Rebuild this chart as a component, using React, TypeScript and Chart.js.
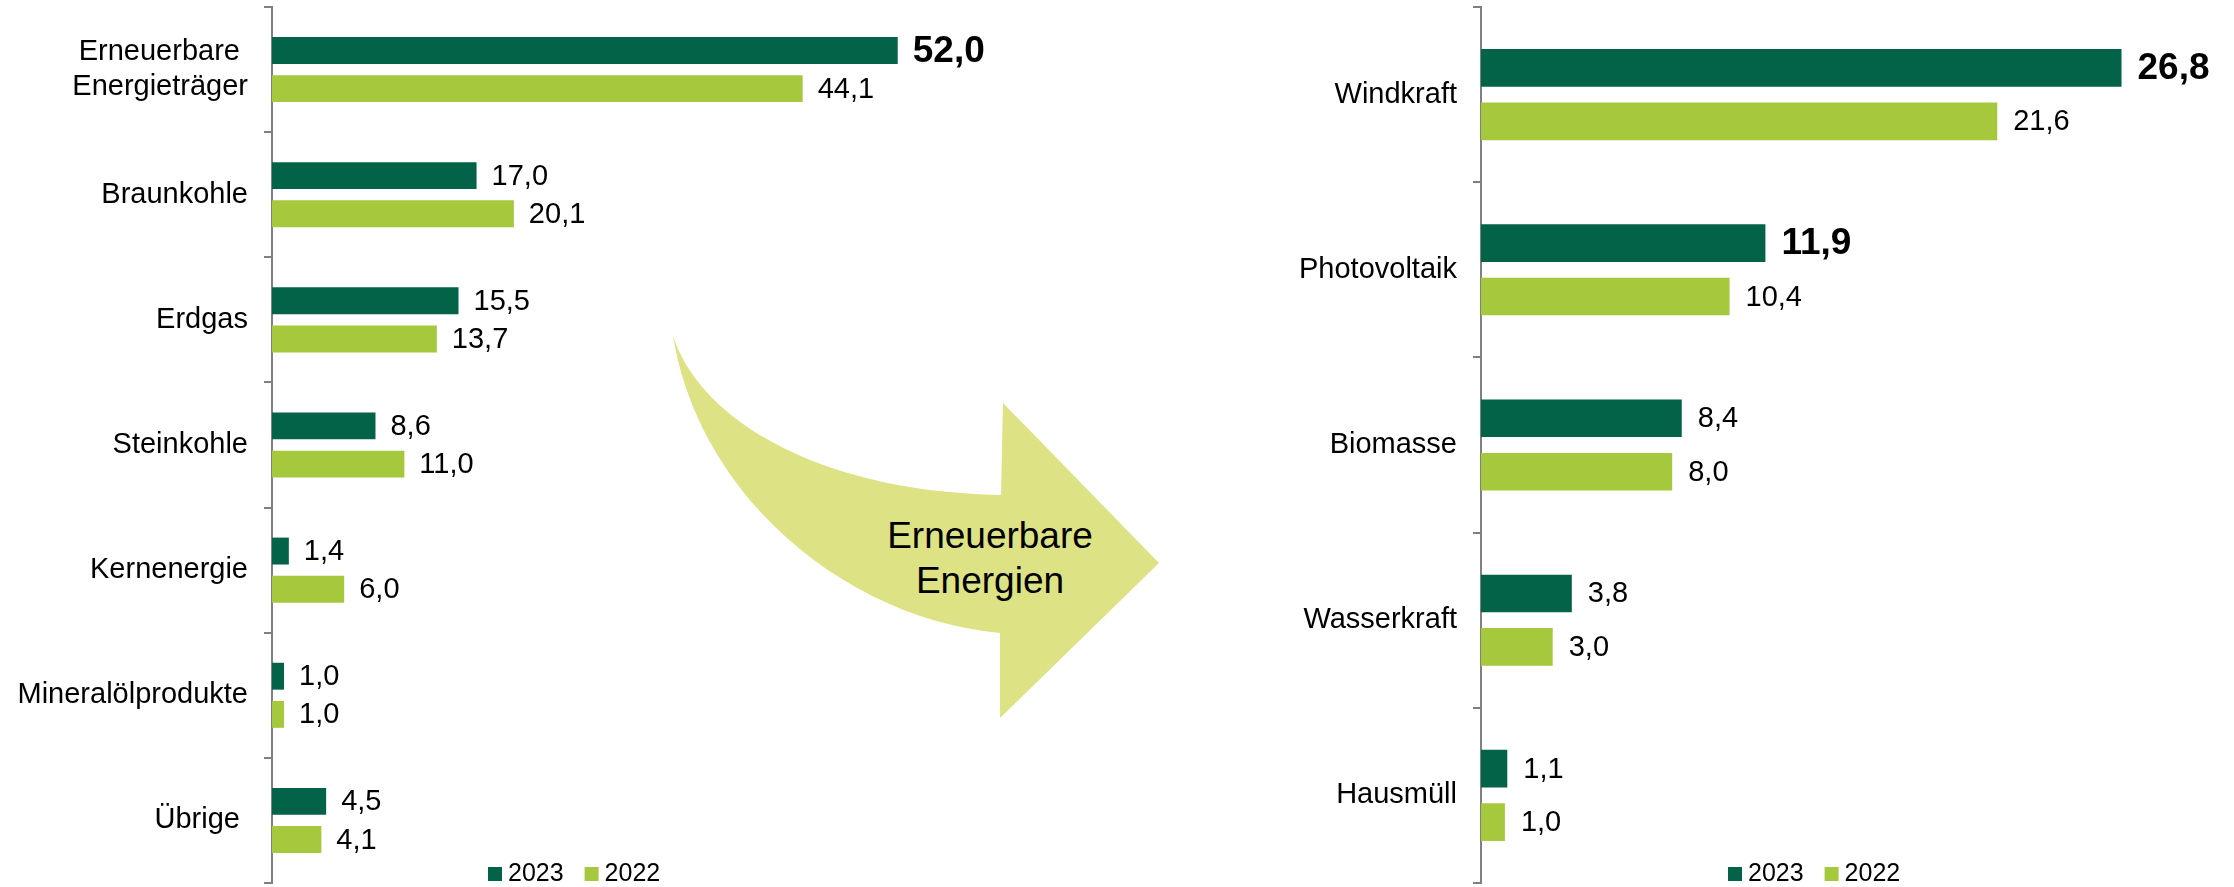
import React, { useEffect, useRef } from "react";
import { Chart, registerables } from "chart.js";

Chart.register(...registerables);

const FONT = "'Liberation Sans', Arial, Helvetica, sans-serif";

// ---- data ----
const leftCategories = [["Erneuerbare ", "Energieträger"], "Braunkohle", "Erdgas", "Steinkohle", "Kernenergie", "Mineralölprodukte", "Übrige "];
const leftValues2023 = [52.0, 17.0, 15.5, 8.6, 1.4, 1.0, 4.5];
const leftValues2022 = [44.1, 20.1, 13.7, 11.0, 6.0, 1.0, 4.1];
const leftBold2023 = [0];

const rightCategories = ["Windkraft", "Photovoltaik", "Biomasse", "Wasserkraft", "Hausmüll"];
const rightValues2023 = [26.8, 11.9, 8.4, 3.8, 1.1];
const rightValues2022 = [21.6, 10.4, 8.0, 3.0, 1.0];
const rightBold2023 = [0, 1];

const seriesLabels = ["2023", "2022"];
const arrowLines = ["Erneuerbare", "Energien"];

// ---- styles ----
const DARK = "#036348";
const LIGHT = "#A5C83C";
const ARROW = "#DDE384";
const AXIS = "#808080";

const valueLabels = {
  id: "valueLabels",
  afterDatasetsDraw(chart: any, _args: any, opts: any) {
    const ctx = chart.ctx;
    ctx.save();
    ctx.fillStyle = "#000";
    ctx.textAlign = "left";
    ctx.textBaseline = "middle";
    chart.data.datasets.forEach((ds: any, di: number) => {
      const meta = chart.getDatasetMeta(di);
      meta.data.forEach((bar: any, i: number) => {
        const v = ds.data[i] as number;
        const bold = di === 0 && opts.bold.includes(i);
        ctx.font = bold ? `bold ${opts.boldSize}px ${FONT}` : `${opts.size}px ${FONT}`;
        ctx.fillText(v.toFixed(1).replace(".", ","), bar.x + opts.offset, bar.y + 1);
      });
    });
    ctx.restore();
  },
};

const boxLegend = {
  id: "boxLegend",
  afterDraw(chart: any, _args: any, opts: any) {
    const ctx = chart.ctx;
    ctx.save();
    ctx.font = `${opts.size}px ${FONT}`;
    ctx.textAlign = "left";
    ctx.textBaseline = "alphabetic";
    let x = opts.x;
    chart.data.datasets.forEach((ds: any) => {
      ctx.fillStyle = ds.backgroundColor;
      ctx.fillRect(x, opts.y, opts.box, opts.box);
      ctx.fillStyle = "#000";
      ctx.fillText(ds.label, x + opts.box + opts.gap, opts.baseline);
      x += opts.box + opts.gap + ctx.measureText(ds.label).width + opts.spacing;
    });
    ctx.restore();
  },
};

type PanelProps = {
  left: number;
  width: number;
  categories: any[];
  v2023: number[];
  v2022: number[];
  bold: number[];
  yWidth: number;
  xMax: number;
  padRight: number;
  labelOffset: number;
  legendX: number;
};

function BarPanel(p: PanelProps) {
  const ref = useRef<HTMLCanvasElement>(null);
  useEffect(() => {
    const chart = new Chart(ref.current as HTMLCanvasElement, {
      type: "bar",
      data: {
        labels: p.categories,
        datasets: [
          {
            label: seriesLabels[0],
            data: p.v2023,
            backgroundColor: DARK,
            categoryPercentage: 0.61,
            barPercentage: 0.705,
          },
          {
            label: seriesLabels[1],
            data: p.v2022,
            backgroundColor: LIGHT,
            categoryPercentage: 0.61,
            barPercentage: 0.705,
          },
        ],
      },
      options: {
        indexAxis: "y",
        responsive: false,
        animation: false,
        layout: { padding: { top: 7, bottom: 4, left: 0, right: p.padRight } },
        scales: {
          x: { display: false, min: 0, max: p.xMax },
          y: {
            type: "category",
            grid: {
              display: true,
              drawOnChartArea: false,
              drawTicks: true,
              tickLength: 8,
              color: AXIS,
              lineWidth: 2,
              offset: true,
            },
            border: { display: true, color: AXIS, width: 2 },
            ticks: {
              color: "#000",
              font: { family: FONT, size: 29, lineHeight: 1.2 },
              padding: 16,
            },
            afterFit: (s: any) => {
              s.width = p.yWidth;
              s.paddingTop = 0;
              s.paddingBottom = 0;
            },
          },
        },
        plugins: {
          legend: { display: false },
          tooltip: { enabled: false },
          valueLabels: { bold: p.bold, size: 29, boldSize: 37, offset: p.labelOffset },
          boxLegend: { x: p.legendX, y: 867, box: 14, gap: 6, spacing: 21, size: 25, baseline: 881 },
        } as any,
      },
      plugins: [valueLabels, boxLegend],
    } as any);
    return () => chart.destroy();
  }, []);
  return (
    <canvas
      ref={ref}
      width={p.width}
      height={887}
      style={{ position: "absolute", left: p.left, top: 0, width: p.width, height: 887 }}
    />
  );
}

function Arrow() {
  return (
    <svg
      width={2234}
      height={887}
      style={{ position: "absolute", left: 0, top: 0 }}
      viewBox="0 0 2234 887"
    >
      <path
        d="M 673 336 C 700 420, 820 492, 1001 495 L 1003 403 L 1159 563 L 1000 718 L 1000 633 C 850 620, 700 500, 673 336 Z"
        fill={ARROW}
      />
      <text x={990} y={548} textAnchor="middle" fontFamily={FONT} fontSize={37} fill="#000">
        {arrowLines[0]}
      </text>
      <text x={990} y={593} textAnchor="middle" fontFamily={FONT} fontSize={37} fill="#000">
        {arrowLines[1]}
      </text>
    </svg>
  );
}

export default function App() {
  return (
    <div
      style={{
        position: "absolute",
        left: 0,
        top: 0,
        width: 2234,
        height: 887,
        background: "#fff",
        overflow: "hidden",
      }}
    >
      <Arrow />
      <BarPanel
        left={0}
        width={1000}
        categories={leftCategories}
        v2023={leftValues2023}
        v2022={leftValues2022}
        bold={leftBold2023}
        yWidth={272}
        xMax={60}
        padRight={6}
        labelOffset={15}
        legendX={488}
      />
      <BarPanel
        left={1250}
        width={984}
        categories={rightCategories}
        v2023={rightValues2023}
        v2022={rightValues2022}
        bold={rightBold2023}
        yWidth={231}
        xMax={30}
        padRight={36}
        labelOffset={16}
        legendX={478}
      />
    </div>
  );
}
